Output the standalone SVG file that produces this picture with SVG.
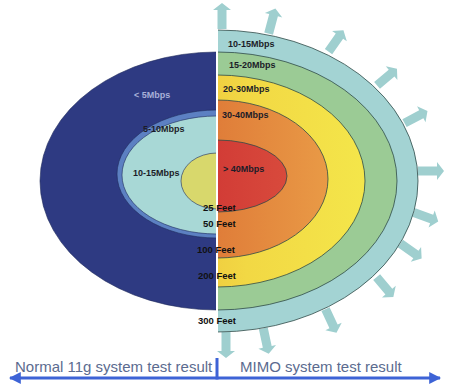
<svg xmlns="http://www.w3.org/2000/svg" width="450" height="389" viewBox="0 0 450 389">
<style>
.lbl{font-family:"Liberation Sans",Arial,sans-serif;font-weight:bold;font-size:9px;fill:#1c1c28}
.ft{font-family:"Liberation Sans",Arial,sans-serif;font-weight:bold;font-size:9.5px;fill:#111}
.cap{font-family:"Liberation Sans",Arial,sans-serif;font-size:15px;fill:#5b6b8f}
.ring{stroke:#2e4a48;stroke-width:0.8}
.lring{stroke:#1e2a5a;stroke-width:0.6}
.arr{fill:#9fcfcf}
.axis{stroke:#3d63d6;stroke-width:3;fill:none}
</style>
<defs>
<clipPath id="cl"><rect x="0" y="0" width="216" height="389"/></clipPath>
<clipPath id="cr"><rect x="218" y="0" width="232" height="389"/></clipPath>
<linearGradient id="gy" x1="0" y1="0" x2="1" y2="0"><stop offset="0" stop-color="#e8a832"/><stop offset="0.6" stop-color="#f2d844"/><stop offset="1" stop-color="#f4e64a"/></linearGradient>
<linearGradient id="go" x1="0" y1="0" x2="1" y2="0"><stop offset="0" stop-color="#d6602c"/><stop offset="1" stop-color="#e99a46"/></linearGradient>
<linearGradient id="gr" x1="0" y1="0" x2="1" y2="0"><stop offset="0" stop-color="#cc2e30"/><stop offset="1" stop-color="#d84a3c"/></linearGradient>
<path id="ar" d="M-4.5,13 V-6 H-9 L0,-13 L9,-6 H4.5 V13 Z"/>
<marker id="ah" viewBox="0 0 10 10" refX="9" refY="5" markerWidth="4" markerHeight="4" orient="auto-start-reverse"><path d="M0,0 L10,5 L0,10 Z" fill="#3d63d6"/></marker>
</defs>

<g id="arrows">
<use href="#ar" class="arr" transform="translate(222,16)"/>
<use href="#ar" class="arr" transform="translate(272,21) rotate(15)"/>
<use href="#ar" class="arr" transform="translate(336,41) rotate(35)"/>
<use href="#ar" class="arr" transform="translate(387,77) rotate(50)"/>
<use href="#ar" class="arr" transform="translate(416,117) rotate(62)"/>
<use href="#ar" class="arr" transform="translate(431,171) rotate(90)"/>
<use href="#ar" class="arr" transform="translate(426,217) rotate(110)"/>
<use href="#ar" class="arr" transform="translate(411,251) rotate(125)"/>
<use href="#ar" class="arr" transform="translate(385,287) rotate(140)"/>
<use href="#ar" class="arr" transform="translate(331,321) rotate(155)"/>
<use href="#ar" class="arr" transform="translate(266,341) rotate(168)"/>
<use href="#ar" class="arr" transform="translate(226,345) rotate(180)"/>
</g>

<g id="left" clip-path="url(#cl)">
<ellipse cx="217" cy="181" rx="177" ry="129" fill="#2e3a82" class="lring"/>
<ellipse cx="217" cy="174" rx="100" ry="64" fill="#5c80c2" class="lring"/>
<ellipse cx="217" cy="175" rx="95" ry="59" fill="#a8d8d6" class="lring"/>
<ellipse cx="217" cy="181" rx="36" ry="28" fill="#d8d86c" class="lring"/>
</g>

<g id="right" clip-path="url(#cr)">
<ellipse cx="217" cy="181" rx="201" ry="151" fill="#a3d3d3" class="ring"/>
<ellipse cx="217" cy="181" rx="180" ry="129" fill="#9bcb95" class="ring"/>
<ellipse cx="217" cy="181" rx="148" ry="106" fill="url(#gy)" class="ring"/>
<ellipse cx="217" cy="179" rx="111" ry="79" fill="url(#go)" class="ring"/>
<ellipse cx="217" cy="176" rx="70" ry="36" fill="url(#gr)" class="ring"/>
</g>

<g id="labels">
<text class="lbl" x="134" y="98" style="fill:#a8b0d8">&lt; 5Mbps</text>
<text class="lbl" x="143" y="132">5-10Mbps</text>
<text class="lbl" x="133" y="176">10-15Mbps</text>
<text class="lbl" x="228" y="47">10-15Mbps</text>
<text class="lbl" x="229" y="68">15-20Mbps</text>
<text class="lbl" x="223" y="92">20-30Mbps</text>
<text class="lbl" x="222" y="118">30-40Mbps</text>
<text class="lbl" x="223" y="172">&gt; 40Mbps</text>
<text class="ft" x="203" y="211">25 Feet</text>
<text class="ft" x="203" y="227">50 Feet</text>
<text class="ft" x="197" y="253">100 Feet</text>
<text class="ft" x="198" y="279">200 Feet</text>
<text class="ft" x="198" y="324">300 Feet</text>
</g>

<g id="axis">
<line class="axis" x1="217" y1="378" x2="10" y2="378" marker-end="url(#ah)"/>
<line class="axis" x1="217" y1="378" x2="440" y2="378" marker-end="url(#ah)"/>
<line class="axis" x1="217" y1="358" x2="217" y2="379.5"/>
<text class="cap" x="15" y="372">Normal 11g system test result</text>
<text class="cap" x="240" y="372">MIMO system test result</text>
</g>
</svg>
